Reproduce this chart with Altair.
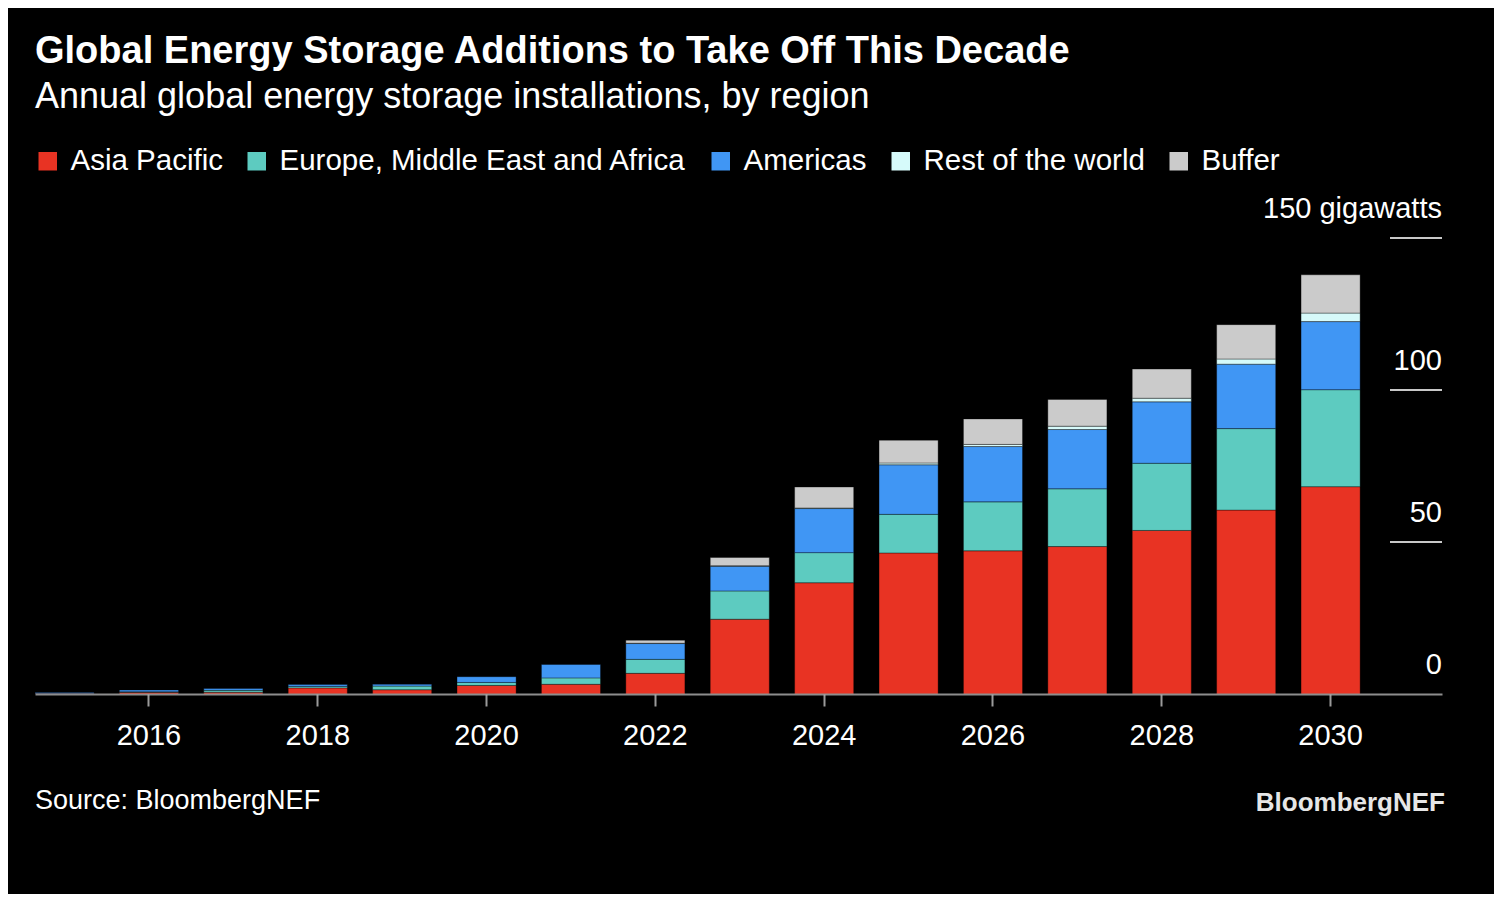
import altair as alt
import pandas as pd

years = list(range(2015, 2031))
asia = [0.2, 0.6, 0.6, 2.0, 1.4, 2.8, 3.2, 6.8, 24.6, 36.6, 46.4, 47.1, 48.5, 53.8, 60.5, 68.2]
emea = [0.0, 0.1, 0.6, 0.5, 1.2, 1.0, 2.1, 4.6, 9.3, 9.9, 12.7, 16.1, 19.0, 22.1, 26.8, 31.9]
americas = [0.3, 0.6, 0.6, 0.6, 0.6, 1.9, 4.4, 5.2, 8.1, 14.5, 16.3, 18.2, 19.5, 20.2, 21.2, 22.4]
rest = [0.0, 0.0, 0.0, 0.0, 0.0, 0.0, 0.0, 0.1, 0.2, 0.2, 0.6, 0.7, 1.1, 1.2, 1.7, 2.8]
buffer = [0.0, 0.0, 0.0, 0.0, 0.0, 0.0, 0.0, 1.0, 2.7, 6.9, 7.5, 8.4, 8.8, 9.6, 11.3, 12.6]

series_names = ["Asia Pacific", "Europe, Middle East and Africa", "Americas",
                "Rest of the world", "Buffer"]
series_colors = ["#e83323", "#5dcbc0", "#4096f4", "#d6fafa", "#cbcbcb"]

x_label_years = [2016, 2018, 2020, 2022, 2024, 2026, 2028, 2030]
tick_values = [0, 50, 100, 150]
tick_labels = ["0", "50", "100", "150 gigawatts"]

title_text = "Global Energy Storage Additions to Take Off This Decade"
subtitle_text = "Annual global energy storage installations, by region"
source_text = "Source: BloombergNEF"
brand_text = "BloombergNEF"

FONT = "Liberation Sans"

rows = []
for k, (name, vals) in enumerate(zip(series_names, [asia, emea, americas, rest, buffer])):
    for y, v in zip(years, vals):
        if v > 0:
            rows.append({"year": y, "series": name, "value": v, "k": k})
df = pd.DataFrame(rows)

yscale = alt.Scale(domain=[0, 150], nice=False, zero=True)

bars = alt.Chart(df).mark_bar(stroke="#000000", strokeOpacity=0.35, strokeWidth=1).encode(
    x=alt.X("year:O",
            scale=alt.Scale(paddingInner=0.3, paddingOuter=0.485, align=0, round=False),
            axis=alt.Axis(values=x_label_years, title=None, labelFontSize=29,
                          labelColor="white", labelFont=FONT, labelAngle=0,
                          labelPadding=15, tickSize=12, tickColor="#9a9a9a",
                          tickWidth=2, domainColor="#b0b0b0", domainWidth=2,
                          domainOpacity=0.8, zindex=1, grid=False)),
    y=alt.Y("value:Q", stack="zero", scale=yscale, axis=None),
    color=alt.Color("series:N",
                    scale=alt.Scale(domain=series_names, range=series_colors),
                    legend=alt.Legend(orient="none", legendX=-2, legendY=-92,
                                      direction="horizontal", title=None,
                                      symbolType="square", symbolSize=400,
                                      labelFontSize=29.5, labelColor="white",
                                      labelFont=FONT, columnPadding=19,
                                      labelOffset=8, padding=0, labelLimit=700)),
    order=alt.Order("k:Q", sort="ascending"),
)

tick_df = pd.DataFrame({"v": tick_values, "label": tick_labels})

rules = alt.Chart(tick_df[tick_df["v"] > 0]).mark_rule(color="#c8c8c8", strokeWidth=2).encode(
    y=alt.Y("v:Q", scale=yscale, axis=None),
    x=alt.value(1355),
    x2=alt.value(1407),
)

ylabels = alt.Chart(tick_df).mark_text(
    align="right", baseline="alphabetic", dy=-20, fontSize=29, font=FONT, color="white"
).encode(
    y=alt.Y("v:Q", scale=yscale, axis=None),
    x=alt.value(1407),
    text="label:N",
)

source = alt.Chart(pd.DataFrame({"t": [source_text]})).mark_text(
    align="left", baseline="alphabetic", fontSize=27, font=FONT, color="white"
).encode(x=alt.value(0), y=alt.value(571), text="t:N")

brand = alt.Chart(pd.DataFrame({"t": [brand_text]})).mark_text(
    align="right", baseline="alphabetic", fontSize=26, font=FONT, fontWeight="bold",
    color="#e6e6e6"
).encode(x=alt.value(1410), y=alt.value(573), text="t:N")

chart = alt.layer(bars, rules, ylabels, source, brand).properties(
    width=1407,
    height=456,
    title=alt.TitleParams(text=title_text, subtitle=subtitle_text, anchor="start",
                          frame="group", font=FONT, fontSize=38, fontWeight="bold",
                          color="white", subtitleFont=FONT, subtitleFontSize=36,
                          subtitleFontWeight="normal", subtitleColor="white",
                          subtitlePadding=9, offset=31),
    autosize=alt.AutoSizeParams(type="none"),
    padding={"left": 27, "top": 230, "right": 52, "bottom": 200},
    background="black",
).configure_view(stroke=None)

chart.save("out.html", embed_options={"renderer": "svg", "actions": False})
